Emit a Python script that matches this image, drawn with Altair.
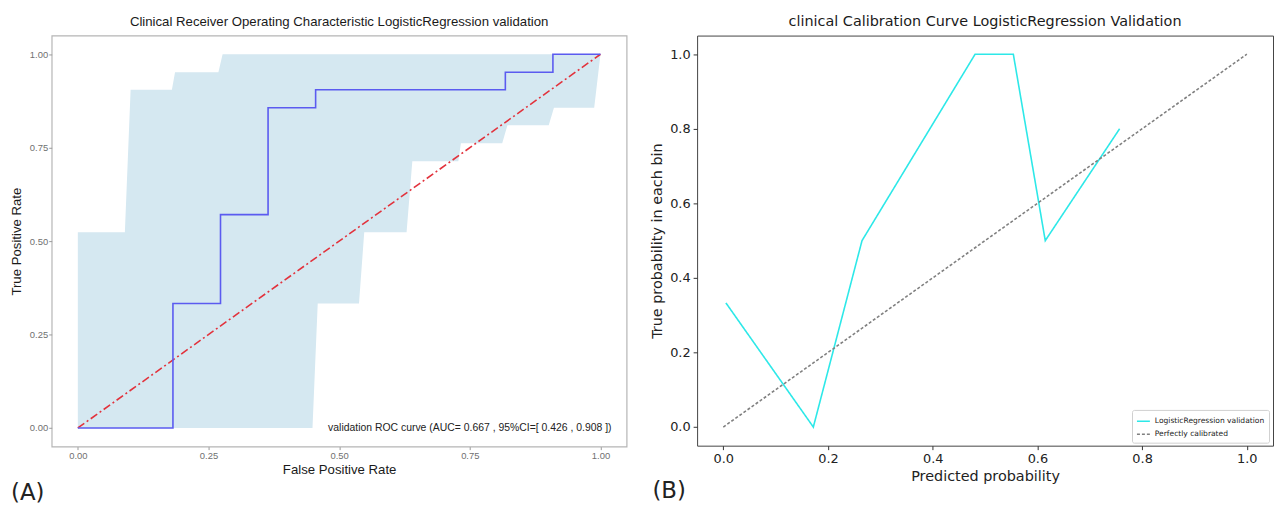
import altair as alt
import pandas as pd

# ---------------- data: panel A (ROC) ----------------
roc_fpr = [0.0, 0.182, 0.182, 0.273, 0.273, 0.364, 0.364, 0.455, 0.455, 0.818, 0.818, 0.909, 0.909, 1.0]
roc_tpr = [0.0, 0.0, 0.333, 0.333, 0.571, 0.571, 0.857, 0.857, 0.905, 0.905, 0.952, 0.952, 1.0, 1.0]

ci_fpr = [0.0, 0.090, 0.101, 0.180, 0.186, 0.269, 0.277, 0.449, 0.459, 0.538, 0.548,
          0.629, 0.640, 0.728, 0.733, 0.812, 0.822, 0.901, 0.911, 0.988, 1.0]
ci_upper = [0.524, 0.524, 0.905, 0.905, 0.952, 0.952, 1.0, 1.0, 1.0, 1.0, 1.0,
            1.0, 1.0, 1.0, 1.0, 1.0, 1.0, 1.0, 1.0, 1.0, 1.0]
ci_lower = [0.0, 0.0, 0.0, 0.0, 0.0, 0.0, 0.0, 0.0, 0.333, 0.333, 0.524,
            0.524, 0.714, 0.714, 0.762, 0.762, 0.810, 0.810, 0.857, 0.857, 1.0]

chance_x = [0.0, 1.0]
chance_y = [0.0, 1.0]

auc_text = ["validation ROC curve (AUC= 0.667 , 95%CI=[ 0.426 , 0.908 ])"]
auc_x = [0.75]
auc_y = [0.0]

# ---------------- data: panel B (calibration) ----------------
cal_pred = [0.005, 0.172, 0.265, 0.481, 0.554, 0.615, 0.757]
cal_true = [0.333, 0.0, 0.5, 1.0, 1.0, 0.5, 0.8]
perfect_x = [0.0, 1.0]
perfect_y = [0.0, 1.0]
series_names = ["LogisticRegression validation", "Perfectly calibrated"]

tick_a = [0.0, 0.25, 0.5, 0.75, 1.0]
tick_b = [0.0, 0.2, 0.4, 0.6, 0.8, 1.0]

# ---------------- panel A ----------------
roc_df = pd.DataFrame({"x": roc_fpr, "y": roc_tpr, "i": list(range(len(roc_fpr)))})
ci_df = pd.DataFrame({"x": ci_fpr, "hi": ci_upper, "lo": ci_lower})
ch_df = pd.DataFrame({"x": chance_x, "y": chance_y})
txt_df = pd.DataFrame({"x": auc_x, "y": auc_y, "t": auc_text})

sa = alt.Scale(domain=[-0.05, 1.05], nice=False, zero=False)
ax_common = dict(values=tick_a, format=".2f", grid=False, domain=False,
                 labelFont="Liberation Sans", labelFontSize=9.5, labelColor="#707070",
                 tickColor="#9a9a9a", tickSize=3, labelPadding=1,
                 titleFont="Liberation Sans", titleFontSize=13.3, titleFontWeight="normal",
                 titleColor="#1a1a1a")
xa = alt.X("x:Q", scale=sa, axis=alt.Axis(title="False Positive Rate", titlePadding=3, **ax_common))
ya_band = alt.Y("hi:Q", scale=sa, axis=alt.Axis(title="True Positive Rate", titlePadding=6, **ax_common))
ya = alt.Y("y:Q", scale=sa, axis=alt.Axis(title="True Positive Rate", titlePadding=6, **ax_common))

band = alt.Chart(ci_df).mark_area(color="#d5e8f1", opacity=1, interpolate="linear").encode(
    x=xa, y=ya_band, y2=alt.Y2("lo:Q"))
chance = alt.Chart(ch_df).mark_line(color="#e2323c", strokeWidth=1.6, strokeDash=[8, 3, 2, 3]).encode(x=xa, y=ya)
roc = alt.Chart(roc_df).mark_line(color="#5b5bf0", strokeWidth=1.6).encode(x=xa, y=ya, order="i:Q")
ann = alt.Chart(txt_df).mark_text(font="Liberation Sans", fontSize=10.5, color="#222222",
                                  align="center", baseline="middle").encode(x=xa, y=ya, text="t:N")
lab_a = alt.Chart(pd.DataFrame({"t": ["(A)"]})).mark_text(
    font="DejaVu Sans", fontSize=23, color="#222222", align="left", baseline="middle").encode(
    text="t:N", x=alt.value(-41), y=alt.value(461))

left = alt.layer(band, chance, roc, ann, lab_a).properties(
    width=579, height=414,
    title=alt.Title("Clinical Receiver Operating Characteristic LogisticRegression validation",
                    font="Liberation Sans", fontSize=13.3, fontWeight="normal", color="#1a1a1a",
                    anchor="middle", offset=7),
    view=alt.ViewBackground(stroke="#b5b5b5", strokeWidth=1.2))

# ---------------- panel B ----------------
rows = []
for k, (px, py) in enumerate(zip(cal_pred, cal_true)):
    rows.append({"x": px, "y": py, "s": series_names[0], "i": k})
for k, (px, py) in enumerate(zip(perfect_x, perfect_y)):
    rows.append({"x": px, "y": py, "s": series_names[1], "i": k})
cal_df = pd.DataFrame(rows)

sb = alt.Scale(domain=[-0.05, 1.05], nice=False, zero=False)
bx_common = dict(values=tick_b, format=".1f", grid=False, domain=False,
                 labelFont="DejaVu Sans", labelFontSize=13, labelColor="#222222",
                 tickColor="#333333", tickSize=4, labelPadding=3,
                 titleFont="DejaVu Sans", titleFontSize=14.5, titleFontWeight="normal",
                 titleColor="#222222")
xb = alt.X("x:Q", scale=sb, axis=alt.Axis(title="Predicted probability", titlePadding=4, **bx_common))
yb = alt.Y("y:Q", scale=sb, axis=alt.Axis(title="True probability in each bin", titlePadding=5, **bx_common))

leg = alt.Legend(orient="none", legendX=1088, legendY=377, direction="vertical",
                 symbolType="stroke", symbolSize=170, symbolStrokeWidth=1.5,
                 labelFont="DejaVu Sans", labelFontSize=7.6, labelColor="#222222",
                 padding=4, strokeColor="#d0d0d0", fillColor="white",
                 cornerRadius=2, rowPadding=1, labelOffset=4)
cal = alt.Chart(cal_df).mark_line(strokeWidth=1.6).encode(
    x=xb, y=yb,
    color=alt.Color("s:N", title=None,
                    scale=alt.Scale(domain=series_names, range=["#2de8e8", "#808080"]),
                    legend=leg),
    strokeDash=alt.StrokeDash("s:N", title=None,
                              scale=alt.Scale(domain=series_names, range=[[1, 0], [3, 2]]),
                              legend=leg),
    order="i:Q", detail="s:N")
lab_b = alt.Chart(pd.DataFrame({"t": ["(B)"]})).mark_text(
    font="DejaVu Sans", fontSize=23, color="#222222", align="left", baseline="middle").encode(
    text="t:N", x=alt.value(-45), y=alt.value(459))

right = alt.layer(cal, lab_b).properties(
    width=580, height=413,
    title=alt.Title("clinical Calibration Curve LogisticRegression Validation",
                    font="DejaVu Sans", fontSize=14.5, fontWeight="normal", color="#1a1a1a",
                    anchor="middle", offset=6),
    view=alt.ViewBackground(stroke="#444444", strokeWidth=1))

chart = alt.hconcat(left, right, spacing=21).properties(
    padding={"left": 0, "top": 4, "right": 0, "bottom": 0})

chart.save("out.html", embed_options={"renderer": "svg", "actions": False})
